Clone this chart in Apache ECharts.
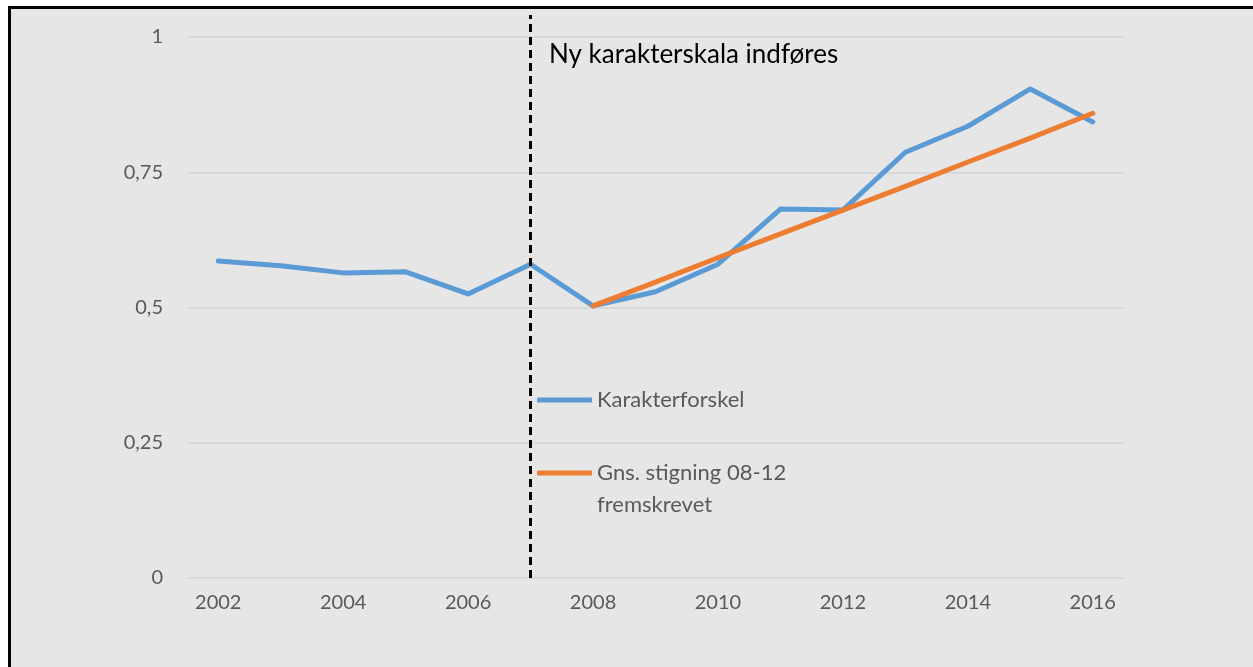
<!DOCTYPE html>
<html>
<head>
<meta charset="utf-8">
<script src="https://cdn.jsdelivr.net/npm/echarts@6/dist/echarts.min.js"></script>
<style>
  html, body { margin: 0; padding: 0; background: #ffffff; }
  #frame { position: absolute; left: 8px; top: 6px; width: 1245px; height: 700px;
           border-left: 3px solid #000; border-top: 3px solid #000; background: #e6e6e6; box-sizing: border-box; }
  #chart { position: absolute; left: 0; top: 0; width: 1253px; height: 667px; }
</style>
</head>
<body>
<div id="frame"></div>
<div id="chart"></div>
<script>
const years = ['2002','2003','2004','2005','2006','2007','2008','2009','2010','2011','2012','2013','2014','2015','2016'];
const karakterforskel = [0.586, 0.577, 0.564, 0.566, 0.525, 0.580, 0.503, 0.529, 0.580, 0.682, 0.680, 0.787, 0.835, 0.904, 0.843];
const stigning = [null, null, null, null, null, null, 0.503, 0.547, 0.592, 0.636, 0.680, 0.724, 0.769, 0.813, 0.859];
const yTicks = [0, 0.25, 0.5, 0.75, 1];
const seriesNames = ['Karakterforskel', 'Gns. stigning 08-12\nfremskrevet'];
const reformYear = '2007';
const annotation = 'Ny karakterskala indføres';

const FONT = 'Lato, "Open Sans", sans-serif';
const chart = echarts.init(document.getElementById('chart'), null, { renderer: 'canvas' });
chart.setOption({
  backgroundColor: 'transparent',
  animation: false,
  title: {
    text: annotation, left: 549, top: 42, padding: 0,
    textStyle: { fontFamily: FONT, fontSize: 26, fontWeight: 'normal', color: '#000000' }
  },
  legend: {
    orient: 'vertical', left: 537, top: 384, padding: 0,
    itemWidth: 55, itemHeight: 5, itemGap: 9,
    icon: 'roundRect',
    data: seriesNames,
    formatter: function (name) { return name.indexOf('\n') >= 0 ? '\n' + name : name; },
    textStyle: { fontFamily: FONT, fontSize: 22, color: '#595959', lineHeight: 32, padding: [0, 0, 0, 0] }
  },
  grid: [
    { left: 187, right: 129, top: 37, bottom: 89, containLabel: false },
    { left: 187, right: 129, top: 15, bottom: 89, containLabel: false }
  ],
  xAxis: [
    {
      type: 'category', data: years, gridIndex: 0, boundaryGap: true,
      axisLine: { show: false }, axisTick: { show: false },
      axisLabel: { interval: 1, fontFamily: FONT, fontSize: 20, color: '#595959', margin: 15 }
    },
    {
      type: 'category', data: years, gridIndex: 1, boundaryGap: true, show: false
    }
  ],
  yAxis: [
    {
      type: 'value', gridIndex: 0, min: yTicks[0], max: yTicks[yTicks.length - 1], interval: 0.25,
      axisLine: { show: false }, axisTick: { show: false },
      splitLine: { lineStyle: { color: '#d9d9d9', width: 2 } },
      axisLabel: {
        fontFamily: FONT, fontSize: 20, color: '#595959', margin: 24,
        formatter: function (v) { return String(v).replace('.', ','); }
      }
    },
    { type: 'value', gridIndex: 1, min: 0, max: 1, show: false, splitLine: { show: false } }
  ],
  series: [
    {
      name: seriesNames[0], type: 'line', data: karakterforskel,
      xAxisIndex: 0, yAxisIndex: 0,
      showSymbol: false, symbol: 'none', color: '#5b9bd5',
      lineStyle: { width: 5, color: '#5b9bd5', cap: 'round', join: 'round' }, z: 3
    },
    {
      name: seriesNames[1], type: 'line', data: stigning,
      xAxisIndex: 0, yAxisIndex: 0,
      showSymbol: false, symbol: 'none', color: '#ed7d31',
      lineStyle: { width: 5, color: '#ed7d31', cap: 'round', join: 'round' }, z: 4
    },
    {
      name: 'reform', type: 'line', data: [], xAxisIndex: 1, yAxisIndex: 1,
      markLine: {
        silent: true, symbol: 'none', label: { show: false },
        lineStyle: { color: '#000000', type: [8, 5], width: 3 },
        data: [{ xAxis: reformYear }]
      }
    }
  ]
});
</script>
</body>
</html>
